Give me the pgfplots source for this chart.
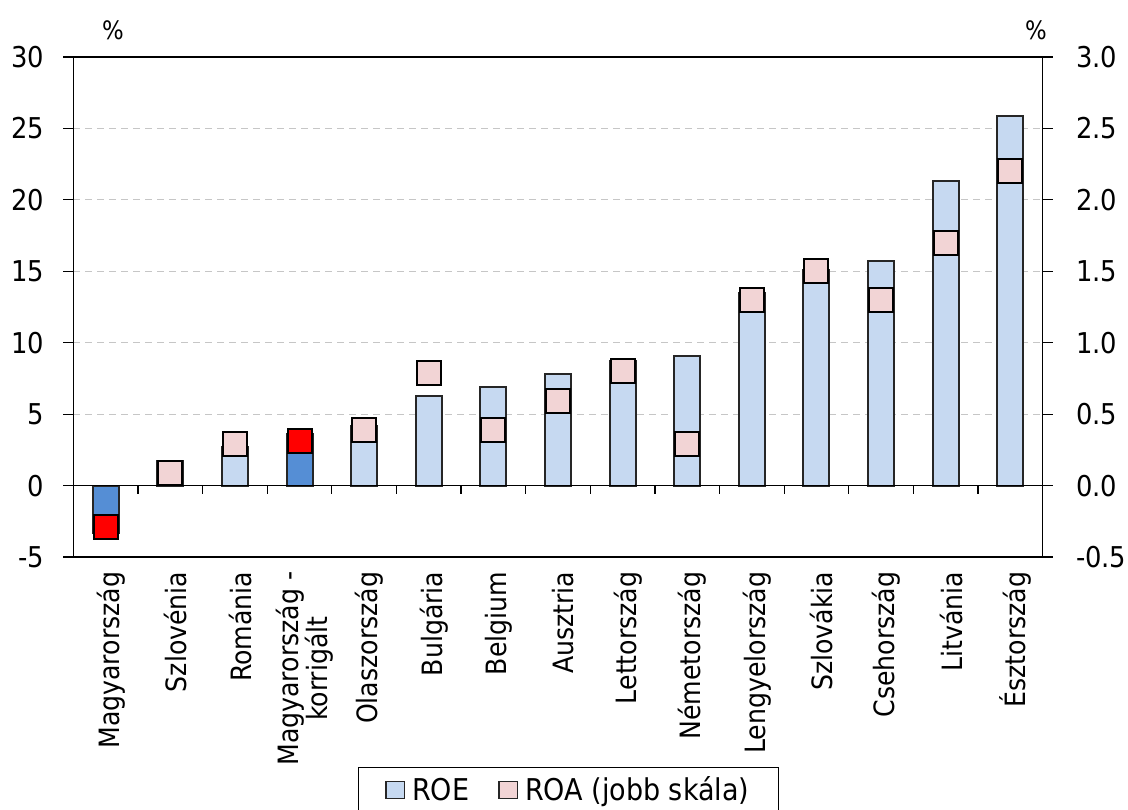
\documentclass[border=0pt]{standalone}
\usepackage{fontspec}
\setmainfont{DejaVu Sans Condensed}
\usepackage{pgfplots}
\pgfplotsset{compat=1.18}

\definecolor{roe}{HTML}{C6D9F1}
\definecolor{roehu}{HTML}{558ED5}
\definecolor{roa}{HTML}{F2D4D5}
\definecolor{roahu}{HTML}{FF0000}
\definecolor{edge}{HTML}{262626}

\begin{document}
\begin{tikzpicture}
\useasboundingbox (-55pt,-189.75pt) rectangle (791pt,417.75pt);

% ROE, left scale
\begin{axis}[
  name=main,
  at={(0,0)}, anchor=south west,
  scale only axis, width=727pt, height=375pt,
  xmin=-0.5, xmax=14.5, ymin=-5, ymax=30,
  ytick={-5,0,5,10,15,20,25,30},
  ytick pos=left,
  tick align=outside,
  major tick length=7.5pt,
  xtick={0,1,2,3,4,5,6,7,8,9,10,11,12,13,14},
  xticklabels={Magyarország,Szlovénia,Románia,{Magyarország -\\korrigált},Olaszország,Bulgária,Belgium,Ausztria,Lettország,Németország,Lengyelország,Szlovákia,Csehország,Litvánia,Észtország},
  x tick style={draw=none},
  xticklabel style={rotate=90, anchor=east, align=center, font=\fontsize{21}{18}\selectfont, yshift=-4pt},
  yticklabel style={font=\fontsize{21.5}{22}\selectfont, xshift=-11pt},
  ymajorgrids,
  grid style={dash pattern=on 5pt off 4pt, gray!45, line width=0.9pt},
  axis line style={black, line width=0.9pt},
  tick style={black, line width=0.9pt},
  /pgf/number format/assume math mode=true,
  ybar, bar width=19.5pt, bar shift=0pt,
]
\addplot[fill=roe, draw=edge, line width=1.5pt] coordinates {
  (1,1.7) (2,2.7) (4,4.2) (5,6.3) (6,6.9) (7,7.8) (8,8.7)
  (9,9.1) (10,13.5) (11,15.1) (12,15.7) (13,21.3) (14,25.9)
};
\addplot[fill=roehu, draw=edge, line width=1.5pt] coordinates {
  (0,-3.3) (3,3.6)
};
% horizontal axis through zero with category separators
\draw[black, line width=0.9pt] (axis cs:-0.5,0) -- (axis cs:14.5,0);
\pgfplotsinvokeforeach{0.5,1.5,2.5,3.5,4.5,5.5,6.5,7.5,8.5,9.5,10.5,11.5,12.5,13.5}{
  \draw[black, line width=0.9pt] (axis cs:#1,0) -- ([yshift=-6.5pt]axis cs:#1,0);
}
\end{axis}

% ROA, right scale
\begin{axis}[
  at={(0,0)}, anchor=south west,
  scale only axis, width=727pt, height=375pt,
  xmin=-0.5, xmax=14.5, ymin=-0.5, ymax=3,
  axis x line=none, axis y line*=right,
  ytick={-0.5,0,0.5,1,1.5,2,2.5,3},
  tick align=outside,
  major tick length=7.5pt,
  axis line style={black, line width=0.9pt},
  tick style={black, line width=0.9pt},
  yticklabel style={font=\fontsize{21.5}{22}\selectfont, xshift=14pt, /pgf/number format/.cd, fixed, fixed zerofill, precision=1},
  /pgf/number format/assume math mode=true,
  legend columns=2,
  legend style={at={(0.511,-0.42)}, anchor=north, draw=black, line width=0.9pt,
    font=\fontsize{22.5}{23}\selectfont, inner xsep=20pt, inner ysep=5pt,
    /tikz/every odd column/.append style={column sep=3pt},
    /tikz/every even column/.append style={column sep=20pt}},
]
\addlegendimage{legend image code/.code={\draw[fill=roe, draw=edge, line width=1pt] (0pt,-6.5pt) rectangle (14pt,6.5pt);}}
\addlegendentry{ROE}
\addlegendimage{legend image code/.code={\draw[fill=roa, draw=edge, line width=1pt] (0pt,-6.5pt) rectangle (14pt,6.5pt);}}
\addlegendentry{ROA (jobb skála)}
\addplot[forget plot, only marks, mark=square*, mark size=9pt,
  mark options={fill=roa, draw=black, line width=1.5pt}] coordinates {
  (1,0.09) (2,0.29) (4,0.39) (5,0.79) (6,0.39) (7,0.59) (8,0.80)
  (9,0.29) (10,1.30) (11,1.50) (12,1.30) (13,1.70) (14,2.20)
};
\addplot[forget plot, only marks, mark=square*, mark size=9pt,
  mark options={fill=roahu, draw=black, line width=1.5pt}] coordinates {
  (0,-0.29) (3,0.31)
};
\end{axis}

\node[font=\fontsize{19}{20}\selectfont] at ([xshift=29.8pt, yshift=20pt]main.north west) {\%};
\node[font=\fontsize{19}{20}\selectfont] at ([xshift=-5pt, yshift=20pt]main.north east) {\%};
\end{tikzpicture}
\end{document}
